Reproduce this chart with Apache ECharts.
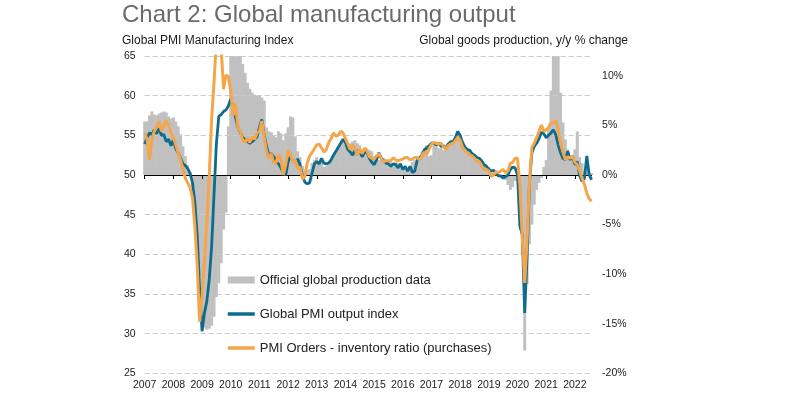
<!DOCTYPE html>
<html>
<head>
<meta charset="utf-8">
<script src="https://cdn.jsdelivr.net/npm/echarts@6/dist/echarts.min.js"></script>
<style>
html,body{margin:0;padding:0;background:#fff;}
#chart{width:800px;height:395px;}
</style>
</head>
<body>
<div id="chart"></div>
<script>
// Monthly categories Jan 2007 .. Aug 2022
const startYear = 2007;
const monthCount = 188;
const months = [];
for (let k = 0; k < monthCount; k++) {
  const y = startYear + Math.floor(k / 12);
  const m = (k % 12) + 1;
  months.push(y + '-' + (m < 10 ? '0' + m : m));
}

// Global PMI output index (left axis)
const pmiOutput = [
  53.9, 54.7, 55.3, 55.1, 55.7, 55.2, 55.9, 55.0, 55.1, 54.2, 54.5, 53.7,
  54.4, 53.3, 52.8, 52.1, 51.4, 51.2, 50.8, 50.2, 49.0, 46.5, 42.3, 35.5,
  30.3, 32.6, 34.1, 36.8, 41.0, 47.5, 54.0, 57.4, 57.6, 58.0, 58.2, 58.7,
  59.6, 58.5, 57.3, 56.0, 55.4, 54.7, 54.5, 54.2, 54.0, 54.2, 54.5, 54.8,
  56.0, 57.0, 55.0, 53.6, 52.4, 52.7, 52.3, 51.7, 51.4, 50.9, 50.3, 50.0,
  51.7, 52.3, 51.8, 51.6, 52.0, 51.3, 49.9, 49.1, 48.9, 49.0, 50.2, 51.4,
  51.7, 51.4, 52.1, 51.5, 51.4, 51.5, 51.9, 52.5, 53.0, 53.5, 54.0, 54.5,
  54.1, 53.2, 52.9, 52.5, 53.1, 53.0, 52.9, 52.3, 52.8, 52.9, 52.1, 51.6,
  51.3, 51.9, 52.8, 52.1, 51.8, 51.5, 51.4, 51.1, 51.4, 51.3, 50.9, 51.4,
  50.7, 51.1, 50.5, 51.1, 50.3, 50.5, 51.8, 52.2, 52.4, 53.2, 53.4, 53.7,
  54.0, 54.0, 53.8, 54.0, 53.6, 53.7, 53.4, 53.9, 54.2, 54.2, 54.7, 55.5,
  55.0, 54.1, 53.5, 53.2, 53.1, 52.7, 52.5, 52.2, 52.1, 51.8, 51.3, 51.1,
  50.7, 50.5, 50.6, 50.2, 49.9, 49.9, 49.6, 49.8, 50.0, 50.7, 51.0, 50.9,
  50.0, 43.5, 42.5, 32.6, 39.7, 49.0, 52.8, 53.6, 54.0, 54.6, 55.4, 55.2,
  54.7, 55.0, 55.3, 55.7, 55.1, 53.8, 52.8, 52.1, 51.9, 53.0, 51.9, 52.4,
  51.3, 51.7, 49.9, 49.2, 49.6, 52.4, 50.0, 49.4
];

// PMI Orders - inventory ratio (purchases) (left axis)
const ordersInventory = [
  55.3, 54.5, 51.9, 54.5, 55.5, 56.1, 56.8, 55.5, 56.3, 56.9, 56.2, 55.3,
  54.7, 53.8, 52.8, 51.9, 50.7, 49.6, 49.0, 48.4, 47.1, 43.5, 38.5, 31.5,
  34.7, 39.3, 43.9, 49.8, 57.0, 61.6, 67.0, 69.0, 66.0, 60.8, 62.6, 62.4,
  60.5, 57.5, 59.0, 56.0, 55.5, 54.4, 54.1, 54.7, 54.1, 54.8, 54.5, 55.3,
  55.5, 56.8, 54.8, 53.0, 52.1, 52.7, 51.5, 51.6, 52.6, 52.0, 50.0, 51.3,
  53.1, 52.6, 51.6, 51.9, 50.8, 51.0, 49.5, 49.8, 51.5, 52.4, 52.8, 53.3,
  53.8, 53.9, 53.4, 52.9, 53.2, 54.1, 54.6, 55.3, 54.9, 55.0, 55.5, 55.3,
  54.6, 53.9, 53.2, 53.8, 53.3, 52.5, 53.3, 52.7, 53.4, 53.1, 52.3, 52.1,
  52.0, 52.4, 52.7, 52.0, 51.7, 51.8, 51.8, 51.8, 52.2, 51.9, 51.8, 51.9,
  52.0, 52.2, 52.2, 51.9, 52.0, 52.2, 52.2, 51.9, 52.4, 52.9, 52.6, 53.3,
  53.9, 54.1, 54.0, 53.9, 54.0, 53.6, 53.2, 53.7, 53.9, 54.0, 54.3, 54.8,
  54.4, 53.5, 53.1, 52.8, 52.5, 52.4, 52.1, 51.7, 51.7, 51.2, 50.7, 50.7,
  50.5, 49.8, 50.0, 50.4, 50.3, 50.5, 50.7, 50.3, 50.5, 51.5, 51.6, 52.1,
  52.1, 48.6, 42.1, 36.4, 41.8, 49.2, 53.5, 54.0, 54.7, 55.5, 56.3, 55.5,
  55.7, 56.0, 56.6, 56.6, 56.8, 55.8, 54.0, 52.9, 51.9, 52.3, 52.1, 52.4,
  51.6, 51.3, 50.5, 49.6, 48.8, 47.7, 47.0, 46.7
];

// Official global production data, y/y % change (right axis)
const production = [
  5.4, 5.4, 6.0, 6.4, 6.1, 6.0, 6.2, 6.3, 6.4, 6.3, 5.9, 5.7,
  5.8, 5.4, 4.9, 4.1, 2.9, 1.9, 1.0, 0.3, -1.1, -3.2, -6.2, -10.2,
  -14.0, -15.4, -15.6, -15.5, -15.2, -14.3, -12.3, -10.9, -8.9, -5.5, -3.8, 4.9,
  14.0, 16.0, 17.0, 15.5, 13.5, 11.2, 10.3, 9.3, 8.7, 8.3, 8.1, 8.0,
  8.0, 7.8, 7.5, 4.8, 4.4, 4.3, 4.0, 3.8, 4.4, 4.2, 3.5, 4.2,
  4.8, 5.9, 5.8, 3.9, 2.4, 1.8, 0.9, 0.5, 0.5, 0.6, 1.2, 1.5,
  1.8, 1.2, 1.5, 0.8, 0.9, 1.0, 1.5, 2.0, 2.4, 2.7, 3.0, 3.5,
  3.5, 3.0, 3.2, 3.4, 3.5, 3.2, 3.0, 1.9, 2.0, 2.5, 2.5, 2.4,
  1.9, 1.9, 1.5, 1.5, 1.7, 1.4, 1.5, 1.3, 1.2, 1.3, 1.2, 1.2,
  0.8, 0.7, 0.6, 0.8, 1.3, 1.5, 1.3, 1.5, 2.4, 2.4, 3.0, 1.9,
  2.0, 3.2, 3.0, 2.7, 2.7, 2.5, 2.5, 2.9, 3.0, 3.5, 3.7, 3.9,
  3.2, 3.0, 2.5, 2.6, 2.0, 2.0, 1.7, 1.4, 1.3, 1.1, 1.0, 0.9,
  0.8, 0.5, 0.2, 0.2, -0.2, -0.3, -0.3, -0.5, -1.0, -1.5, -1.2, -0.6,
  -0.3, -3.2, -8.0, -17.7, -11.0, -7.0, -5.0, -3.0, -1.5, -0.8, -0.3, 0.8,
  1.5, 4.8, 8.5, 14.0, 22.0, 16.0, 8.3, 5.3, 3.6, 2.6, 1.5, 1.8,
  2.6, 4.4, 1.8, 1.2, 0.4, 0.5, 0.2, 0.2
];

const titleText = 'Chart 2: Global manufacturing output';
const leftAxisName = 'Global PMI Manufacturing Index';
const rightAxisName = 'Global goods production, y/y % change';
const seriesNames = ['Official global production data', 'Global PMI output index', 'PMI Orders - inventory ratio (purchases)'];

const FONT = '"Liberation Sans", Arial, Helvetica, sans-serif';
const BLUE = '#0d6b8c';
const ORANGE = '#f5a54a';
const GREY = '#c0c0c0';

const chart = echarts.init(document.getElementById('chart'), null, {renderer: 'canvas'});
chart.setOption({
  animation: false,
  backgroundColor: '#ffffff',
  textStyle: {fontFamily: FONT},
  grid: {left: 144.7, right: 208.4, top: 56, bottom: 21.7, containLabel: false},
  graphic: [
    {type: 'text', x: 122, y: 15, style: {text: titleText, font: '24px ' + FONT, fill: '#6a6a6a',
      verticalAlign: 'middle', textVerticalAlign: 'middle'}},
    {type: 'text', x: 122, y: 41, style: {text: leftAxisName, font: '12px ' + FONT, fill: '#1a1a1a',
      verticalAlign: 'middle', textVerticalAlign: 'middle'}},
    {type: 'text', x: 628, y: 41, style: {text: rightAxisName, font: '12px ' + FONT, fill: '#1a1a1a',
      align: 'right', textAlign: 'right', verticalAlign: 'middle', textVerticalAlign: 'middle'}}
  ],
  legend: {
    orient: 'vertical', left: 226, top: 273.5, padding: 0, itemGap: 21,
    itemWidth: 27, itemHeight: 7,
    textStyle: {fontSize: 13, color: '#222', fontFamily: FONT},
    data: [
      {name: seriesNames[0], icon: 'rect'},
      {name: seriesNames[1], itemStyle: {opacity: 0}, lineStyle: {width: 3.5}},
      {name: seriesNames[2], itemStyle: {opacity: 0}, lineStyle: {width: 3.5}}
    ]
  },
  xAxis: [
    {
      type: 'category', data: months, boundaryGap: false, position: 'bottom', z: 2,
      axisLine: {onZero: true, onZeroAxisIndex: 1, lineStyle: {color: '#000', width: 1}},
      axisTick: {show: true, interval: function (i) { return i % 12 === 0; }, length: 4, lineStyle: {color: '#000', width: 1}},
      axisLabel: {show: false},
      splitLine: {show: false}
    },
    {
      type: 'category', data: months, boundaryGap: false, position: 'bottom',
      axisLine: {show: false}, axisTick: {show: false}, splitLine: {show: false},
      axisLabel: {
        interval: function (i) { return i % 12 === 0; },
        formatter: function (v) { return v.slice(0, 4); },
        fontSize: 10.5, color: '#222', margin: 6, fontFamily: FONT
      }
    }
  ],
  yAxis: [
    {
      type: 'value', min: 25, max: 65, interval: 5, position: 'left', z: 1.5,
      axisLine: {show: false}, axisTick: {show: false},
      axisLabel: {fontSize: 10.5, color: '#222', margin: 9, fontFamily: FONT},
      splitLine: {show: true, lineStyle: {color: '#c9c9c9', width: 1, type: [5, 3]}}
    },
    {
      type: 'value', min: -20, max: 12, interval: 5, position: 'right',
      axisLine: {show: false}, axisTick: {show: false}, splitLine: {show: false},
      axisLabel: {
        formatter: function (v) { return (v % 5 === 0) ? v + '%' : ''; },
        fontSize: 10.5, color: '#222', margin: 10.5, fontFamily: FONT
      }
    }
  ],
  series: [
    {name: seriesNames[0], type: 'bar', xAxisIndex: 0, yAxisIndex: 1, data: production,
      barWidth: 3, itemStyle: {color: GREY}, z: 1, clip: true},
    {name: seriesNames[1], type: 'line', xAxisIndex: 0, yAxisIndex: 0, data: pmiOutput,
      symbol: 'none', lineStyle: {color: BLUE, width: 2.8}, itemStyle: {color: BLUE}, z: 3, clip: true},
    {name: seriesNames[2], type: 'line', xAxisIndex: 0, yAxisIndex: 0, data: ordersInventory,
      symbol: 'none', lineStyle: {color: ORANGE, width: 3}, itemStyle: {color: ORANGE}, z: 3, clip: true}
  ]
});
</script>
</body>
</html>
